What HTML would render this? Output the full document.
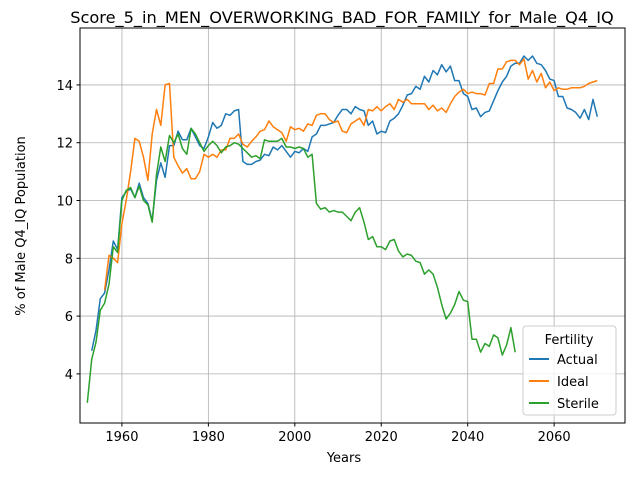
<!DOCTYPE html>
<html><head><meta charset="utf-8"><style>
body{margin:0;background:#fff;font-family:"Liberation Sans","DejaVu Sans",sans-serif}
svg text{font-family:"DejaVu Sans","Liberation Sans",sans-serif}
</style></head><body>
<svg id="chart" width="640" height="480" xmlns="http://www.w3.org/2000/svg">
<rect width="640" height="480" fill="#fff"/>
<g id="grid"></g>
<g id="series"></g>
<rect x="80" y="28" width="545" height="395" fill="none" stroke="#000" stroke-width="1"/>
<g id="ticks"></g>
<text x="342" y="23" font-size="16.2" text-anchor="middle">Score_5_in_MEN_OVERWORKING_BAD_FOR_FAMILY_for_Male_Q4_IQ</text>
<text x="344" y="462" font-size="13" text-anchor="middle">Years</text>
<text x="25" y="226" font-size="13" text-anchor="middle" transform="rotate(-90 25 226)">% of Male Q4_IQ Population</text>
<g>
<rect x="523" y="326" width="93" height="89" rx="3" fill="#fff" fill-opacity="0.8" stroke="#ccc"/>
<text x="569" y="344" font-size="13" text-anchor="middle">Fertility</text>
<g><line x1="529" y1="359" x2="549" y2="359" stroke="#1f77b4" stroke-width="2"/><text x="557" y="364" font-size="13">Actual</text></g>
<g><line x1="529" y1="381" x2="549" y2="381" stroke="#ff7f0e" stroke-width="2"/><text x="557" y="386" font-size="13">Ideal</text></g>
<g><line x1="529" y1="403" x2="549" y2="403" stroke="#2ca02c" stroke-width="2"/><text x="557" y="408" font-size="13">Sterile</text></g>
</g>
</svg>
<script>
const xTicks=[1960,1980,2000,2020,2040,2060];
const yTicks=[4,6,8,10,12,14];
const actualStart=1953;
const actual=[4.8,5.5,6.6,6.8,7.6,8.6,8.3,10.1,10.3,10.4,10.1,10.6,10.1,9.9,9.3,10.7,11.3,10.8,11.9,11.9,12.4,12.1,12.1,12.5,12.2,11.9,11.8,12.2,12.7,12.5,12.6,13.0,12.95,13.1,13.15,11.35,11.25,11.25,11.35,11.4,11.6,11.55,11.85,11.75,11.9,11.7,11.5,11.7,11.65,11.8,11.7,12.2,12.3,12.6,12.6,12.65,12.7,12.95,13.15,13.15,13.0,13.25,13.15,13.1,12.6,12.75,12.3,12.4,12.35,12.75,12.85,13.0,13.3,13.65,13.7,13.95,13.85,14.3,14.1,14.5,14.35,14.7,14.45,14.65,14.15,14.15,13.7,13.6,13.15,13.2,12.9,13.05,13.1,13.45,13.8,14.1,14.3,14.65,14.75,14.75,15.0,14.85,15.0,14.75,14.7,14.5,14.2,14.15,13.6,13.6,13.2,13.15,13.05,12.85,13.15,12.8,13.5,12.9];
const idealStart=1956;
const ideal=[6.9,8.1,8.0,7.85,9.2,10.0,11.0,12.15,12.05,11.5,10.7,12.3,13.15,12.6,14.0,14.05,11.5,11.2,10.95,11.1,10.75,10.75,11.0,11.6,11.5,11.6,11.5,11.75,11.75,12.15,12.15,12.3,11.95,11.85,12.05,12.2,12.4,12.45,12.75,12.55,12.45,12.35,12.05,12.55,12.45,12.5,12.4,12.65,12.6,12.95,13.0,13.0,12.8,12.7,12.75,12.4,12.35,12.65,12.75,12.85,12.6,13.15,13.1,13.25,13.1,13.25,13.35,13.15,13.5,13.4,13.5,13.35,13.35,13.35,13.35,13.15,13.3,13.1,13.2,13.05,13.35,13.6,13.75,13.85,13.7,13.75,13.7,13.7,13.65,14.05,14.05,14.55,14.55,14.8,14.85,14.85,14.7,14.9,14.2,14.5,14.1,14.4,13.9,14.1,13.8,13.9,13.85,13.85,13.9,13.9,13.9,13.95,14.05,14.1,14.15];
const sterileStart=1952;
const sterile=[3.0,4.5,5.1,6.2,6.45,7.1,8.4,8.2,10.0,10.35,10.45,10.1,10.5,10.0,9.85,9.25,10.9,11.85,11.35,12.25,12.0,12.3,11.8,11.6,12.5,12.3,12.0,11.7,11.9,12.05,11.9,11.65,11.85,11.9,12.0,11.95,11.8,11.65,11.5,11.55,11.45,12.1,12.05,12.05,12.05,12.15,11.85,11.85,11.8,11.85,11.8,11.5,11.6,9.9,9.7,9.75,9.6,9.65,9.6,9.6,9.45,9.3,9.6,9.75,9.25,8.65,8.75,8.4,8.4,8.3,8.6,8.65,8.25,8.05,8.15,8.1,7.9,7.85,7.45,7.6,7.45,7.0,6.4,5.9,6.1,6.4,6.85,6.55,6.5,5.2,5.2,4.75,5.05,4.95,5.35,5.25,4.65,5.0,5.6,4.75];

const X0=80,X1=625,Y0=28,Y1=423;
const xMin=1950.3,xMax=2076.4,yMin=2.3,yMax=15.97;
function xs(v){return X0+(v-xMin)/(xMax-xMin)*(X1-X0);}
function ys(v){return Y1-(v-yMin)/(yMax-yMin)*(Y1-Y0);}
const NS="http://www.w3.org/2000/svg";
const grid=document.getElementById('grid'),ticks=document.getElementById('ticks'),ser=document.getElementById('series');
function mk(tag,attrs,parent){const e=document.createElementNS(NS,tag);for(const k in attrs)e.setAttribute(k,attrs[k]);parent.appendChild(e);return e;}
xTicks.forEach(t=>{
  const x=xs(t);
  const g=mk('line',{x1:x,x2:x,y1:Y0,y2:Y1,stroke:'#b0b0b0','stroke-width':0.8},grid);
  
  
  mk('line',{x1:x,x2:x,y1:Y1,y2:Y1+3.5,stroke:'#000'},ticks);
  const tx=mk('text',{x:x,y:Y1+18,'font-size':13,'text-anchor':'middle'},ticks);
  tx.textContent=t;
  
  
});
yTicks.forEach(t=>{
  const y=ys(t);
  const g=mk('line',{x1:X0,x2:X1,y1:y,y2:y,stroke:'#b0b0b0','stroke-width':0.8},grid);
  
  
  mk('line',{x1:X0-3.5,x2:X0,y1:y,y2:y,stroke:'#000'},ticks);
  const tx=mk('text',{x:X0-7,y:y+5,'font-size':13,'text-anchor':'end'},ticks);
  tx.textContent=t;
  
  
});
function line(data,start,color,name){
  const pts=data.map((v,i)=>xs(start+i).toFixed(1)+','+ys(v).toFixed(1)).join(' ');
  const p=mk('polyline',{points:pts,fill:'none',stroke:color,'stroke-width':1.5,'stroke-linejoin':'round'},ser);
  
  
}
line(actual,actualStart,'#1f77b4','actual-line');
line(ideal,idealStart,'#ff7f0e','ideal-line');
line(sterile,sterileStart,'#2ca02c','sterile-line');
</script>
</body></html>
